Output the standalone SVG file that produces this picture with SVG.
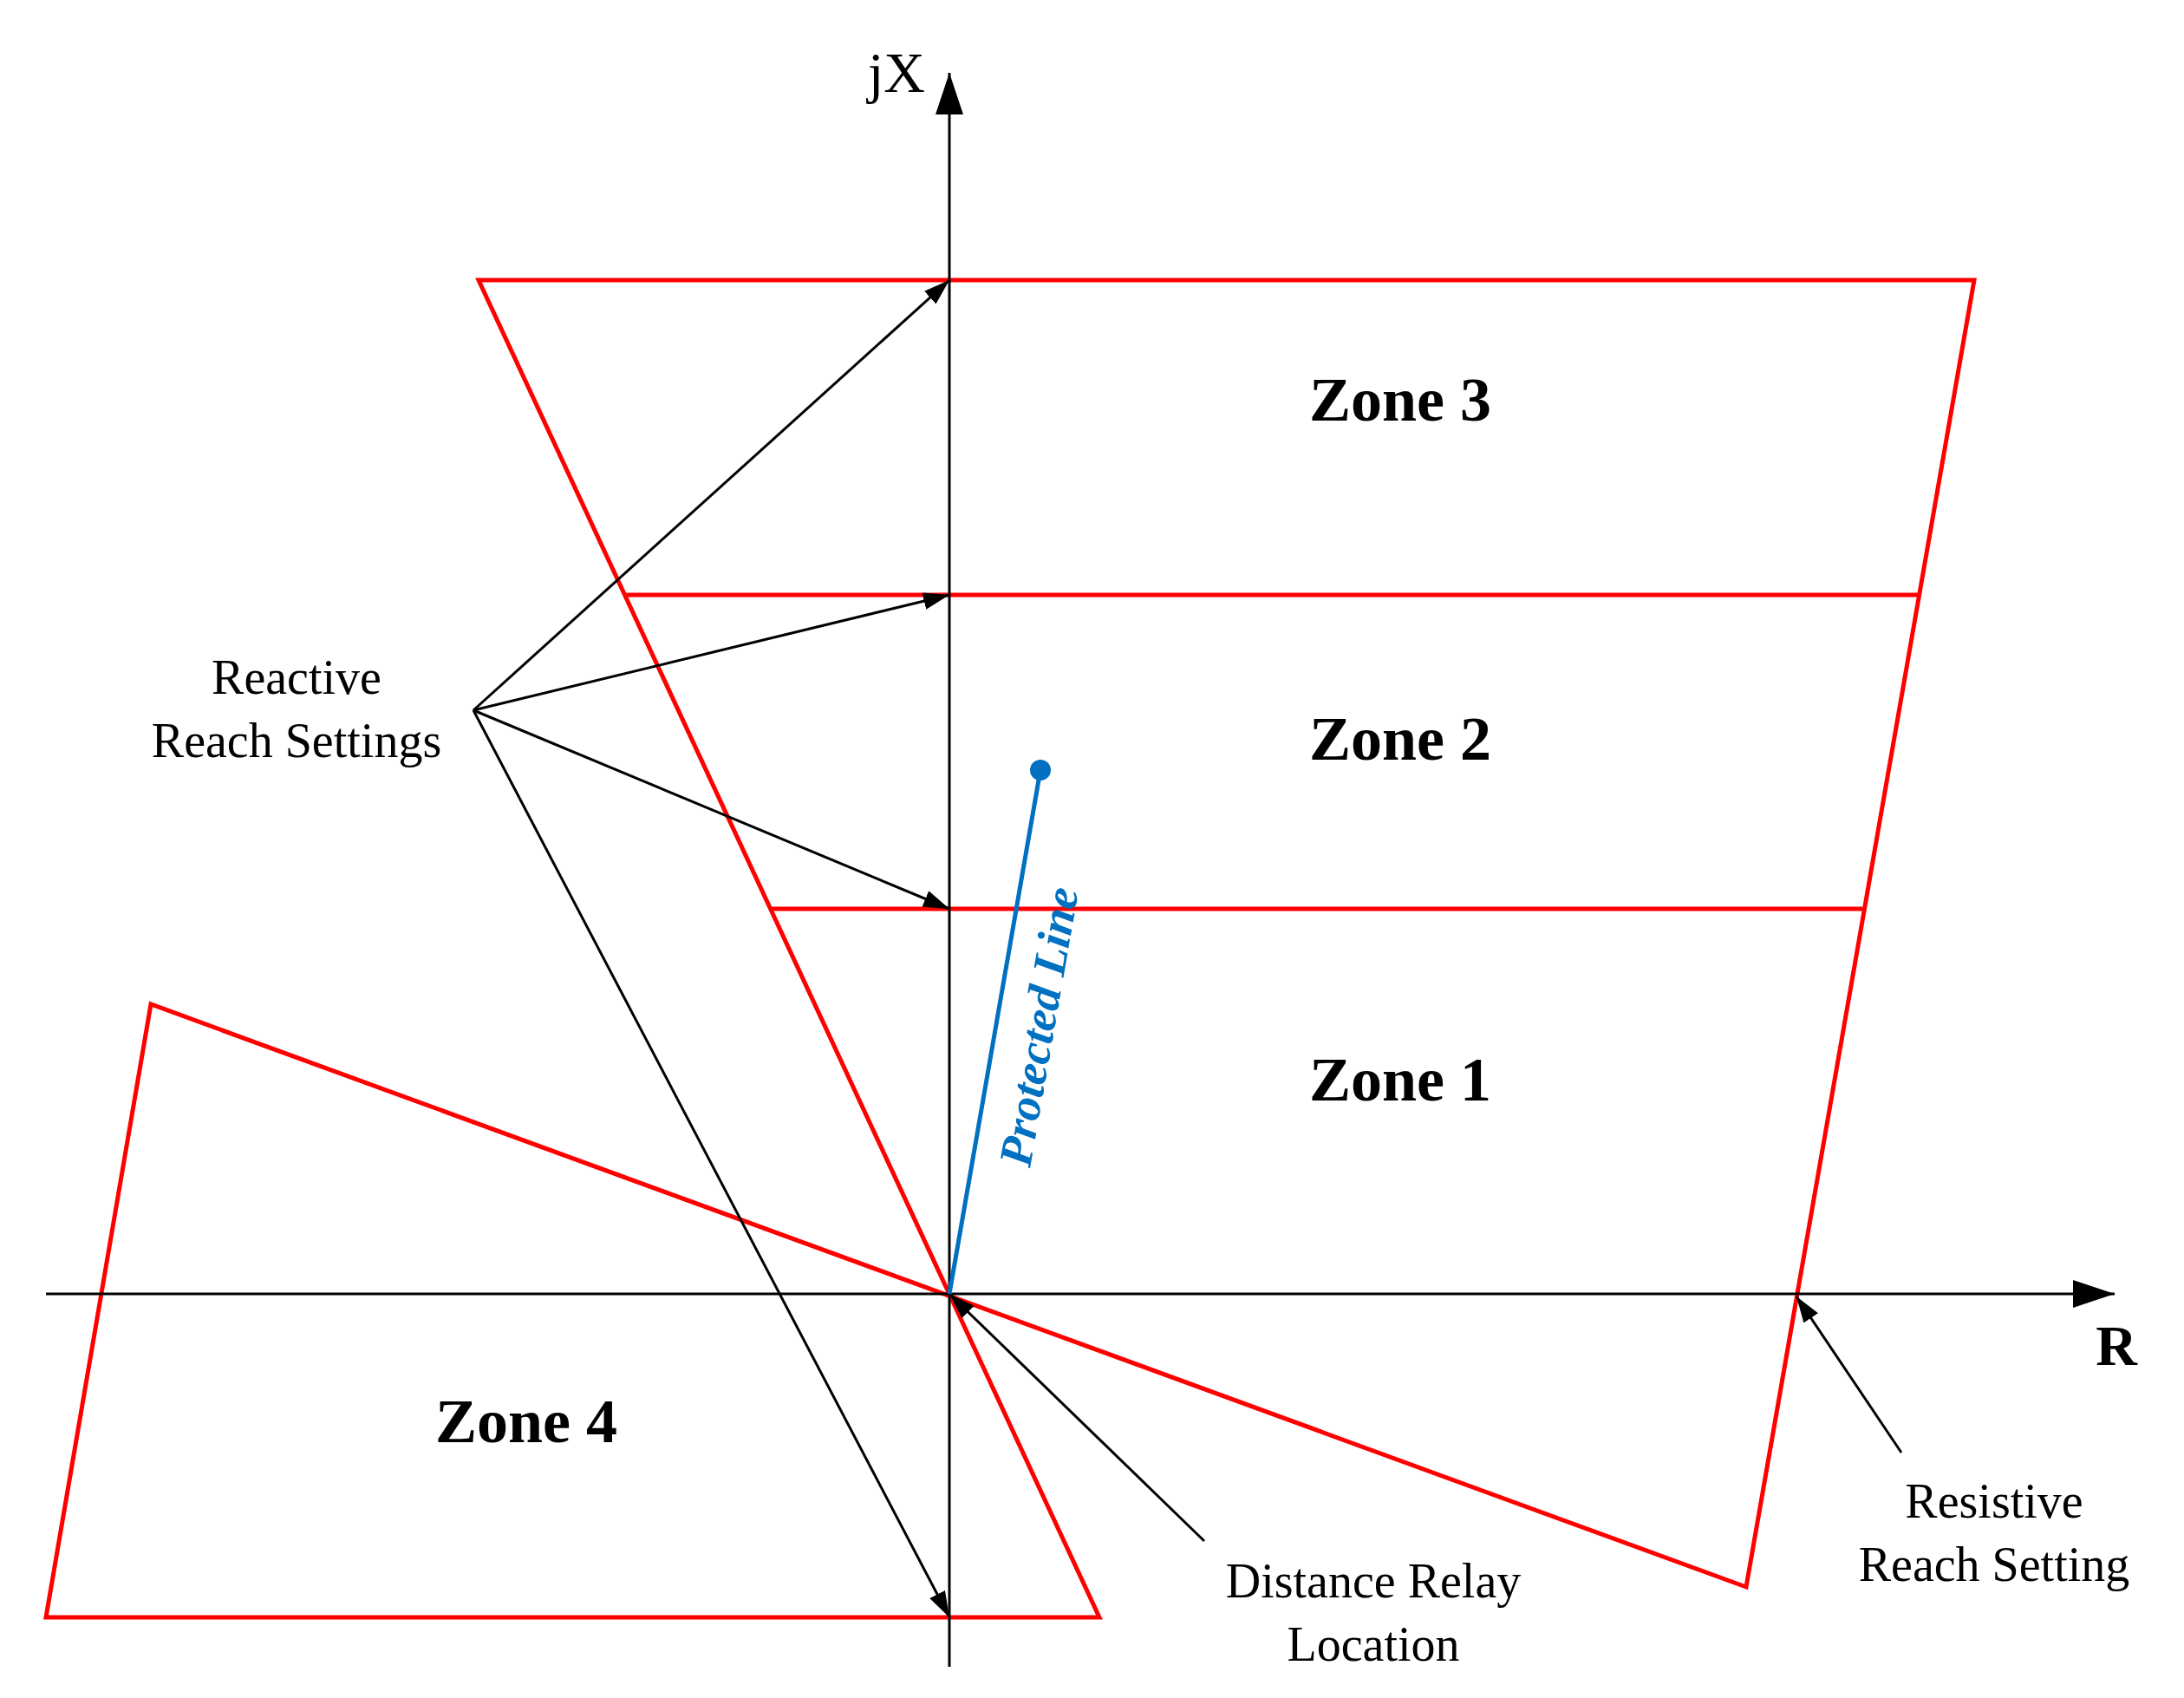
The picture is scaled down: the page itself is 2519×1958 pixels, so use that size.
<svg xmlns="http://www.w3.org/2000/svg" width="2519" height="1958" viewBox="0 0 2519 1958">
<style>
.z{fill:none;stroke:#ff0000;stroke-width:5;stroke-linejoin:miter}
.k{fill:none;stroke:#000;stroke-width:3}
.t{font-family:"Liberation Serif",serif;font-size:56px;fill:#000;text-anchor:middle}
.b{font-family:"Liberation Serif",serif;font-size:72px;font-weight:bold;fill:#000;text-anchor:middle}
</style>
<defs>
<marker id="a" viewBox="0 0 10 10" refX="10" refY="5" markerWidth="9" markerHeight="7" markerUnits="userSpaceOnUse" orient="auto" overflow="visible"><path d="M-14,-6 L10,5 L-14,16 Z" transform="scale(1)" fill="#000"/></marker>
<marker id="ax" viewBox="0 0 24 20" refX="24" refY="10" markerWidth="48" markerHeight="40" markerUnits="userSpaceOnUse" orient="auto"><path d="M0,2 L24,10 L0,18 Z" fill="#000"/></marker>
<marker id="as" viewBox="0 0 24 16" refX="24" refY="8" markerWidth="30" markerHeight="20" markerUnits="userSpaceOnUse" orient="auto"><path d="M0,0 L24,8 L0,16 Z" fill="#000"/></marker>
</defs>
<rect width="2519" height="1958" fill="#fff"/>
<g id="zones">
<path class="z" d="M552,323 L2277,323 L2014,1830 L174,1158 L53,1865 L1268,1865 Z"/>
<line class="z" x1="722" y1="686" x2="2212" y2="686"/>
<line class="z" x1="890" y1="1048" x2="2148" y2="1048"/>
</g>
<g id="connectors">
<line class="k" x1="1095" y1="1922" x2="1095" y2="84" marker-end="url(#ax)"/>
<line class="k" x1="53" y1="1492" x2="2439" y2="1492" marker-end="url(#ax)"/>
<line class="k" x1="546" y1="819" x2="1095" y2="323" marker-end="url(#as)"/>
<line class="k" x1="546" y1="819" x2="1095" y2="686" marker-end="url(#as)"/>
<line class="k" x1="546" y1="819" x2="1095" y2="1048" marker-end="url(#as)"/>
<line class="k" x1="546" y1="819" x2="1095" y2="1865" marker-end="url(#as)"/>
<line class="k" x1="1389" y1="1777" x2="1095" y2="1492" marker-end="url(#as)"/>
<line class="k" x1="2193" y1="1675" x2="2072" y2="1495" marker-end="url(#as)"/>
</g>
<g id="protected-line">
<line x1="1095" y1="1492" x2="1200" y2="888" stroke="#0070c0" stroke-width="5"/>
<circle cx="1200" cy="888" r="12" fill="#0070c0"/>
<text transform="translate(1216,1187) rotate(-80.1)" font-family="Liberation Serif,serif" font-size="54" font-weight="bold" font-style="italic" fill="#0070c0" text-anchor="middle">Protected Line</text>
</g>
<g id="labels">
<text class="t" x="1034" y="106" font-size="66" style="font-size:66px">jX</text>
<text class="b" x="2441" y="1574" style="font-size:66px">R</text>
<text class="b" x="1615" y="485">Zone 3</text>
<text class="b" x="1615" y="876">Zone 2</text>
<text class="b" x="1615" y="1269">Zone 1</text>
<text class="b" x="607" y="1663">Zone 4</text>
<text class="t" x="342" y="800">Reactive</text>
<text class="t" x="342" y="873">Reach Settings</text>
<text class="t" x="2300" y="1750">Resistive</text>
<text class="t" x="2300" y="1823">Reach Setting</text>
<text class="t" x="1584" y="1842">Distance Relay</text>
<text class="t" x="1584" y="1915">Location</text>
</g>
</svg>
